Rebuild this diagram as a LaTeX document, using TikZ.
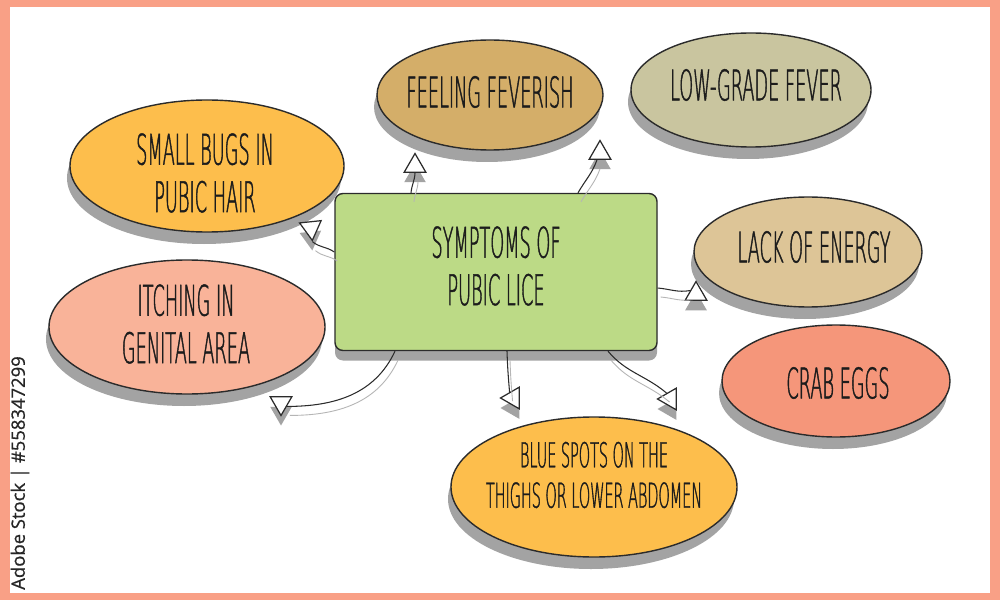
\documentclass[tikz,border=0pt]{standalone}
\usepackage{fontspec}
\usepackage{tikz}
\usetikzlibrary{shapes.geometric, shadows}
\newfontfamily\handfont{DejaVu Sans ExtraLight}[FakeStretch=0.42, FakeBold=1]
\newfontfamily\stockfont{Open Sans}[FakeBold=0.8]
\definecolor{frame}{HTML}{F9A086}
\definecolor{ink}{HTML}{2B2B2B}
\definecolor{textink}{HTML}{1C1C1C}
\definecolor{shade}{HTML}{A3A3A3}
\definecolor{coregreen}{HTML}{BCDA86}
\definecolor{bugsorange}{HTML}{FDBE4C}
\definecolor{fevertan}{HTML}{D4AE69}
\definecolor{lowolive}{HTML}{C9C59F}
\definecolor{energysand}{HTML}{DDC597}
\definecolor{itchpink}{HTML}{F9B399}
\definecolor{crabred}{HTML}{F5967A}

\begin{document}
\begin{tikzpicture}[x=0.2mm, y=-0.2mm,
		bubble/.style={ellipse, draw=ink, line width=0.8pt, inner sep=0pt,
			drop shadow={shadow xshift=-0.6mm, shadow yshift=-2.4mm, fill=shade, opacity=1}},
		label text/.style={align=center, text=textink, font=\handfont\fontsize{24}{27}\selectfont},
		tipnode/.style={regular polygon, regular polygon sides=3, draw=ink, fill=white, line width=0.7pt,
			minimum size=5mm, inner sep=0pt,
			drop shadow={shadow xshift=0mm, shadow yshift=-2mm, fill=shade, opacity=1}},
		link/.style={draw=ink, line width=0.6pt,
			preaction={draw=shade!80, line width=0.5pt, transform canvas={shift={(0.6mm,-1.8mm)}}}}]
		% Frame and page
		\useasboundingbox (0,0) rectangle (1000,600);
		\fill[frame] (0,0) rectangle (1000,600);
		\fill[white] (10,7) rectangle (990,593);
		\node[rotate=90, text=black!85, font=\stockfont\fontsize{10.5}{11}\selectfont] (stock) at (20,473) {Adobe Stock | \#558347299};
		% Centre box
		\node[draw=ink, fill=coregreen, line width=0.8pt, rounded corners=1.6mm, minimum width=64.4mm, minimum height=31.4mm,
			drop shadow={shadow xshift=0mm, shadow yshift=-2mm, fill=shade, opacity=1}] (core) at (496,272) {};
		\node[label text] (coretext) at (496,266) {SYMPTOMS OF\\PUBIC LICE};
		% Symptom bubbles
		\node[bubble, fill=bugsorange, minimum width=54.8mm, minimum height=26.4mm] (bugs) at (207,166) {};
		\node[label text] (bugstext) at (205,173) {SMALL BUGS IN\\PUBIC HAIR};
		\node[bubble, fill=fevertan, minimum width=45.2mm, minimum height=22mm] (feverish) at (490,95) {};
		\node[label text] (fevertext) at (490,92) {FEELING FEVERISH};
		\node[bubble, fill=lowolive, minimum width=48mm, minimum height=22.8mm] (lowgrade) at (751,90) {};
		\node[label text] (lowtext) at (756,85) {LOW-GRADE FEVER};
		\node[bubble, fill=energysand, minimum width=45.6mm, minimum height=22mm] (energy) at (808,252) {};
		\node[label text] (energytext) at (814,247) {LACK OF ENERGY};
		\node[bubble, fill=itchpink, minimum width=55.2mm, minimum height=26.8mm] (itching) at (187,327) {};
		\node[label text] (itchtext) at (186,324) {ITCHING IN\\GENITAL AREA};
		\node[bubble, fill=crabred, minimum width=45.6mm, minimum height=22.4mm] (crab) at (836,381) {};
		\node[label text] (crabtext) at (838,383) {CRAB EGGS};
		\node[bubble, fill=bugsorange, minimum width=57.2mm, minimum height=28mm] (spots) at (594,487) {};
		\node[label text, font=\handfont\fontsize{19.5}{23}\selectfont] (spotstext) at (594,475) {BLUE SPOTS ON THE\\THIGHS OR LOWER ABDOMEN};
		% Arrow heads
		\node[tipnode] (tipA) at (415,166) {};
		\node[tipnode] (tipB) at (600,153) {};
		\node[tipnode, rotate=186] (tipC) at (311,228) {};
		\node[tipnode] (tipD) at (696,294) {};
		\node[tipnode, rotate=180] (tipE) at (281,403) {};
		\node[tipnode, rotate=90] (tipF) at (513,398) {};
		\node[tipnode, rotate=90] (tipG) at (670,399) {};
		% Connectors
		\draw[link] ([xshift=-17mm]core.north) to[out=85, in=-92] (tipA.south);
		\draw[link] ([xshift=16.4mm]core.north) to[out=60, in=-110] ([xshift=-0.6mm]tipB.south);
		\draw[link] ([yshift=4mm]core.west) to[out=145, in=-40] (tipC.corner 1);
		\draw[link] ([yshift=-3.2mm]core.east) to[out=-5, in=190] (tipD.side 1);
		\draw[link] ([xshift=-20.2mm]core.south) to[out=-115, in=0] (tipE.side 1);
		\draw[link] ([xshift=2.2mm]core.south) to[out=-88, in=95] (tipF.side 3);
		\draw[link] ([xshift=22.4mm]core.south) to[out=-50, in=140] (tipG.side 3);
	\end{tikzpicture}
\end{document}
